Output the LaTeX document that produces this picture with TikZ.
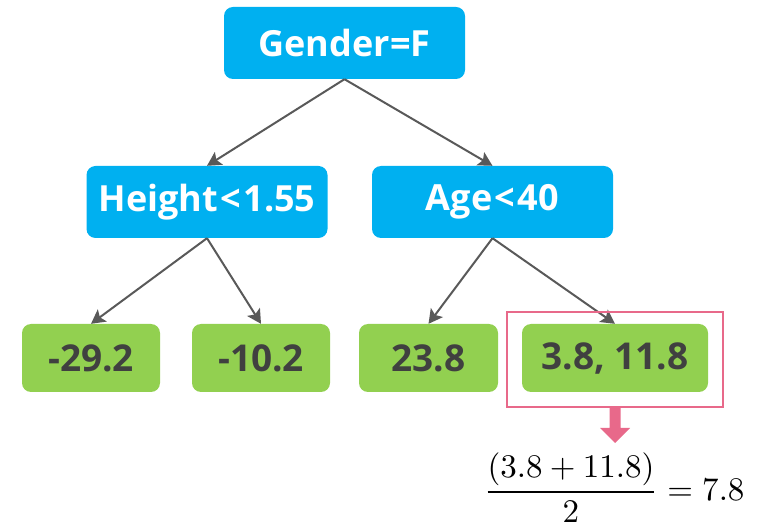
\documentclass[tikz,border=0pt]{standalone}
\usepackage{fontspec}
\setmainfont{Open Sans}
\usetikzlibrary{arrows.meta}
\definecolor{splitblue}{HTML}{00B0F0}
\definecolor{leafgreen}{HTML}{92D050}
\definecolor{leaftext}{HTML}{404040}
\definecolor{edgegray}{HTML}{595959}
\definecolor{markpink}{HTML}{E8698A}
\newcommand{\lessgap}{\hspace{2.5pt}<\hspace{2.5pt}}
\tikzset{
  x=1pt, y=-1pt,
  splitnode/.style={fill=splitblue, rounded corners=9pt, inner sep=0pt,
    minimum width=241pt, minimum height=72pt, text=white,
    font=\fontsize{36}{40}\selectfont\bfseries},
  leafnode/.style={fill=leafgreen, rounded corners=9pt, inner sep=0pt,
    minimum height=68pt, text=leaftext,
    font=\fontsize{37}{40}\selectfont\bfseries},
  edge/.style={draw=edgegray, line width=2pt,
    -{Stealth[length=14pt,width=15pt,inset=3pt]}},
}
\begin{document}
\begin{tikzpicture}
\useasboundingbox (0,0) rectangle (761,529);
% split nodes
\node[splitnode] (gender) at (344.5,43) {Gender=F};
\node[splitnode] (height) at (207,202) {Height\lessgap1.55};
\node[splitnode] (age) at (492.5,202) {Age\lessgap40};
% leaves
\node[leafnode, minimum width=138pt] (l1) at (91,358) {-29.2};
\node[leafnode, minimum width=138pt] (l2) at (261,358) {-10.2};
\node[leafnode, minimum width=139pt] (l3) at (428.5,358) {23.8};
\node[leafnode, minimum width=186pt] (l4) at (615,358) {3.8, 11.8};
% edges
\draw[edge] (gender.south) -- (height.north);
\draw[edge] (gender.south) -- (age.north);
\draw[edge] (height.south) -- (l1.north);
\draw[edge] (height.south) -- (l2.north);
\draw[edge] (age.south) -- (l3.north);
\draw[edge] (age.south) -- (l4.north);
% highlight around the last leaf
\node[draw=markpink, line width=2pt, minimum width=216pt, minimum height=95pt,
  inner sep=0pt] (mark) at (615,359.5) {};
% block arrow down to the average
\fill[markpink] (609.5,408) -- (620.5,408) -- (620.5,428) -- (630,428)
  -- (615,443) -- (600,428) -- (609.5,428) -- cycle;
% average of the leaf values
\node[anchor=center, inner sep=0pt, scale=3.3] (avg) at (614,488)
  {$\displaystyle\frac{(3.8+11.8)}{2}=7.8$};
\end{tikzpicture}
\end{document}
